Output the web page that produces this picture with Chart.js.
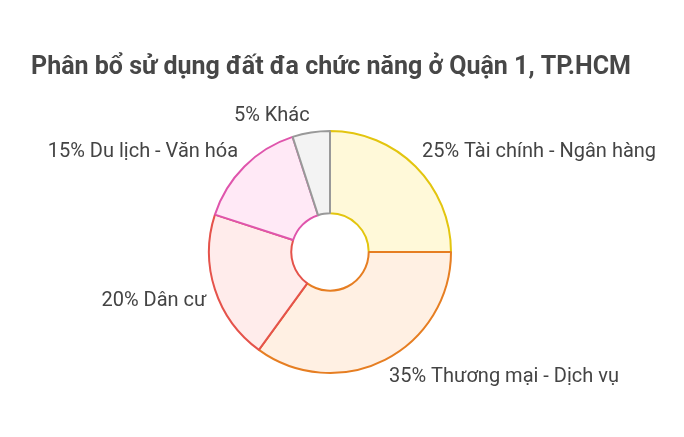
<!DOCTYPE html>
<html>
<head>
<meta charset="utf-8">
<style>
  html, body { margin: 0; padding: 0; background: #ffffff; }
  #wrap { width: 684px; height: 437px; }
</style>
<script src="https://cdn.jsdelivr.net/npm/chart.js@4.4.1/dist/chart.umd.min.js"></script>
</head>
<body>
<div id="wrap"><canvas id="c" width="684" height="437"></canvas></div>
<script>
const chartTitle = "Phân bổ sử dụng đất đa chức năng ở Quận 1, TP.HCM";
const categories = ["Tài chính - Ngân hàng", "Thương mại - Dịch vụ", "Dân cư", "Du lịch - Văn hóa", "Khác"];
const shares = [25, 35, 20, 15, 5];
const fillColors = ["#fff9d9", "#fff0e3", "#ffeceb", "#ffe9f6", "#f3f3f3"];
const borderColors = ["#e3c50f", "#e67e22", "#e5534b", "#df55ac", "#999999"];

const labelPlugin = {
  id: 'outsideLabels',
  afterDraw(chart) {
    const ctx = chart.ctx;
    const meta = chart.getDatasetMeta(0);
    ctx.save();
    // title
    ctx.font = "bold 25px Roboto";
    ctx.fillStyle = "#474747";
    ctx.textAlign = "center";
    ctx.textBaseline = "middle";
    ctx.fillText(chartTitle, 331, 68);
    // labels
    ctx.font = "20px Roboto";
    ctx.fillStyle = "#444444";
    meta.data.forEach((arc, i) => {
      const p = arc.getProps(['x', 'y', 'startAngle', 'endAngle', 'outerRadius'], true);
      const mid = (p.startAngle + p.endAngle) / 2;
      const dx = Math.cos(mid), dy = Math.sin(mid);
      const r = p.outerRadius + 9;
      const px = p.x + dx * r;
      const py = p.y + dy * r;
      ctx.textAlign = dx >= 0 ? "left" : "right";
      ctx.textBaseline = "middle";
      const ty = py + (dy >= 0 ? 9 : -8);
      ctx.fillText(shares[i] + "% " + categories[i], px, ty);
    });
    ctx.restore();
  }
};

new Chart(document.getElementById('c'), {
  type: 'doughnut',
  data: {
    labels: categories,
    datasets: [{
      data: shares,
      backgroundColor: fillColors,
      borderColor: borderColors,
      borderWidth: 2,
      hoverOffset: 0
    }]
  },
  options: {
    responsive: false,
    animation: false,
    cutout: '32%',
    layout: { padding: { top: 130, bottom: 63, left: 0, right: 24 } },
    plugins: {
      legend: { display: false },
      title: { display: false },
      tooltip: { enabled: false }
    }
  },
  plugins: [labelPlugin]
});
</script>
</body>
</html>
